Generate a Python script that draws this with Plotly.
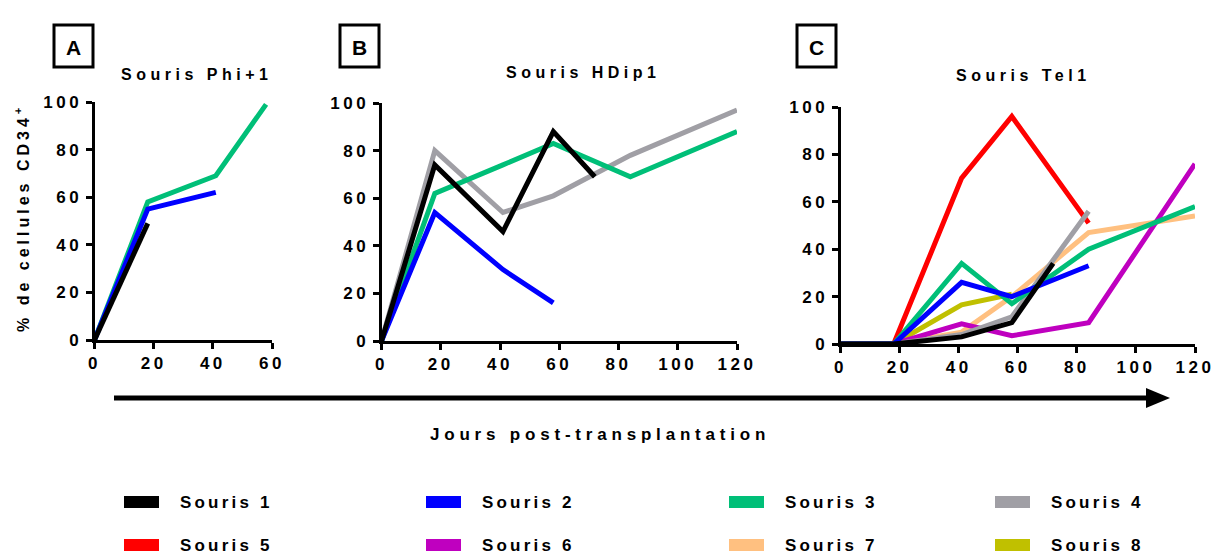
import plotly.graph_objects as go

W, H = 1215, 556

souris = ["Souris 1", "Souris 2", "Souris 3", "Souris 4",
          "Souris 5", "Souris 6", "Souris 7", "Souris 8"]
couleurs = ["#000000", "#0000FF", "#00BF78", "#A09FA5",
            "#FF0000", "#BF00BF", "#FFC080", "#C0C000"]

# Souris Phi+1
phi_jours = [0, 18, 41, 58]
phi_s1 = [0, 49]
phi_s2 = [0, 55, 62]
phi_s3 = [0, 58, 69, 99]

# Souris HDip1
hdip_jours = [0, 18, 41, 58, 72, 84, 120]
hdip_s1 = [0, 74, 46, 88, 69, None, None]
hdip_s2 = [0, 54, 30, 16, None, None, None]
hdip_s3 = [0, 62, 74, 83, None, 69, 88]
hdip_s4 = [0, 80, 54, 61, None, 78, 97]

# Souris Tel1
tel_jours = [0, 18, 41, 58, 72, 84, 120]
tel_s1 = [0, 0, 3, 9, 34, None, None]
tel_s2 = [0, 0, 26, 20, None, 33, None]
tel_s3 = [0, 0, 34, 17, None, 40, 58]
tel_s4 = [0, 0, 4, 11.5, None, 56, None]
tel_s5 = [0, 0, 70, 96, None, 51, None]
tel_s6 = [0, 0, 8.5, 3.5, None, 9, 76]
tel_s7 = [0, 0, 5, 20, None, 47, 54]
tel_s8 = [0, 0, 16.5, 21, None, None, None]

ticks_x_phi = [0, 20, 40, 60]
ticks_x = [0, 20, 40, 60, 80, 100, 120]
ticks_y = [0, 20, 40, 60, 80, 100]

titres = ["Souris Phi+1", "Souris HDip1", "Souris Tel1"]
lettres = ["A", "B", "C"]
titre_x = "Jours post-transplantation"
titre_y = "% de cellules CD34<sup>+</sup>"

FONT = "Liberation Sans, Arial, sans-serif"


def sp(txt, ls=4.5):
    return f'<span style="letter-spacing:{ls}px">{txt}</span>'


def px(x):
    return x / W


def py(y):
    return 1 - y / H


panneaux = [
    ("x", "y", phi_jours, {1: phi_s1, 2: phi_s2, 3: phi_s3}),
    ("x2", "y2", hdip_jours, {1: hdip_s1, 2: hdip_s2, 3: hdip_s3, 4: hdip_s4}),
    ("x3", "y3", tel_jours, {1: tel_s1, 2: tel_s2, 3: tel_s3, 4: tel_s4,
                             5: tel_s5, 6: tel_s6, 7: tel_s7, 8: tel_s8}),
]

fig = go.Figure()

for xa, ya, jours, series in panneaux:
    for k in sorted(series, reverse=True):
        vals = series[k]
        fig.add_trace(go.Scatter(x=jours[:len(vals)], y=vals, mode="lines",
                                 connectgaps=True, showlegend=False,
                                 line=dict(color=couleurs[k - 1], width=5),
                                 name=souris[k - 1], xaxis=xa, yaxis=ya))

tickfont = dict(family=FONT, size=17, color="black", weight="bold")


def axe_x(dom, rng, vals, anchor):
    return dict(domain=dom, range=rng, anchor=anchor, showline=True,
                linewidth=3, linecolor="black", ticks="outside", ticklen=6,
                tickwidth=3, tickcolor="black", showgrid=False, zeroline=False,
                tickvals=vals, ticktext=[sp(str(v), 3.5) for v in vals],
                tickfont=tickfont, fixedrange=True, automargin=False)


def axe_y(dom, anchor):
    return dict(domain=dom, range=[0, 100], anchor=anchor, showline=True,
                linewidth=3, linecolor="black", ticks="outside", ticklen=6,
                tickwidth=3, tickcolor="black", showgrid=False, zeroline=False,
                tickvals=ticks_y, ticktext=[sp(str(v), 3.5) for v in ticks_y],
                tickfont=tickfont, fixedrange=True, automargin=False)


fig.update_layout(
    width=W, height=H, margin=dict(l=0, r=0, t=0, b=0, pad=0),
    paper_bgcolor="white", plot_bgcolor="white", showlegend=False,
    xaxis=axe_x([px(94.5), px(272)], [0, 60], ticks_x_phi, "y"),
    yaxis=axe_y([py(340), py(102)], "x"),
    xaxis2=axe_x([px(381.5), px(737)], [0, 120], ticks_x, "y2"),
    yaxis2=axe_y([py(341), py(103)], "x2"),
    xaxis3=axe_x([px(840.5), px(1195)], [0, 120], ticks_x, "y3"),
    yaxis3=axe_y([py(344), py(107)], "x3"),
)

shapes = []
annotations = []

# cadres A, B, C et titres
boites = [54, 340, 797]
centres_titres = [(196, 74), (583, 73), (1023, 75)]
for i in range(3):
    x0 = boites[i]
    shapes.append(dict(type="rect", xref="paper", yref="paper",
                       x0=px(x0), x1=px(x0 + 39), y0=py(67), y1=py(25),
                       line=dict(color="black", width=3)))
    annotations.append(dict(xref="paper", yref="paper", x=px(x0 + 19.5),
                            y=py(47), text=lettres[i], showarrow=False,
                            xanchor="center", yanchor="middle",
                            font=dict(family=FONT, size=21, color="black",
                                      weight="bold")))
    cx, cy = centres_titres[i]
    annotations.append(dict(xref="paper", yref="paper", x=px(cx), y=py(cy),
                            text=sp(titres[i]), showarrow=False,
                            xanchor="center", yanchor="middle",
                            font=dict(family=FONT, size=16, color="black",
                                      weight="bold")))

# titre axe y
annotations.append(dict(xref="paper", yref="paper", x=px(22), y=py(218),
                        text=sp(titre_y, 4), showarrow=False, textangle=-90,
                        xanchor="center", yanchor="middle",
                        font=dict(family=FONT, size=16, color="black",
                                  weight="bold")))

# fleche du temps
shapes.append(dict(type="line", xref="paper", yref="paper",
                   x0=px(114), x1=px(1148), y0=py(398), y1=py(398),
                   line=dict(color="black", width=5)))
shapes.append(dict(type="path", xref="paper", yref="paper",
                   path=f"M {px(1146)} {py(388)} L {px(1170)} {py(398)} "
                        f"L {px(1146)} {py(408)} Z",
                   fillcolor="black", line=dict(color="black", width=0)))
annotations.append(dict(xref="paper", yref="paper", x=px(600), y=py(434),
                        text=sp(titre_x, 4.8), showarrow=False,
                        xanchor="center", yanchor="middle",
                        font=dict(family=FONT, size=17, color="black",
                                  weight="bold")))

# legende
cols = [124, 426, 729, 995]
rows = [502, 545]
for i, nom in enumerate(souris):
    x0 = cols[i % 4]
    y0 = rows[i // 4]
    shapes.append(dict(type="rect", xref="paper", yref="paper",
                       x0=px(x0), x1=px(x0 + 35), y0=py(y0 + 6), y1=py(y0 - 6),
                       fillcolor=couleurs[i], line=dict(width=0)))
    annotations.append(dict(xref="paper", yref="paper", x=px(x0 + 54),
                            y=py(y0), text=sp(nom, 3.2), showarrow=False,
                            xanchor="left", yanchor="middle",
                            font=dict(family=FONT, size=17, color="black",
                                      weight="bold")))

fig.update_layout(shapes=shapes, annotations=annotations)

# pas de marge autour de la page
fig.write_html("out.html", config={"displayModeBar": False},
               post_script="document.body.style.margin='0';"
                           "document.body.style.overflow='hidden';")
